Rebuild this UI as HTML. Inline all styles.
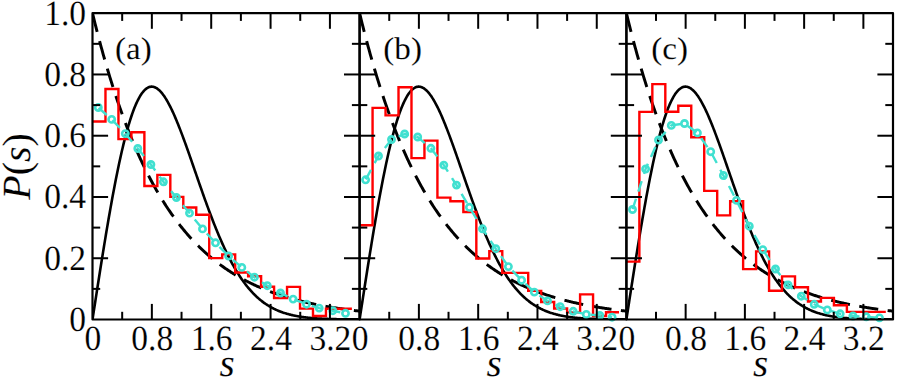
<!DOCTYPE html><html><head><meta charset="utf-8"><style>html,body{margin:0;padding:0;background:#fff;}svg{display:block;}text{font-family:"Liberation Serif",serif;fill:#000;text-rendering:geometricPrecision;stroke:#fff;stroke-width:0.15px;}</style></head><body>
<svg width="897" height="378" viewBox="0 0 897 378">
<rect width="897" height="378" fill="#fff"/>
<clipPath id="c0"><rect x="92.5" y="13.2" width="267.1" height="306.3"/></clipPath>
<clipPath id="c1"><rect x="359.6" y="13.2" width="266.8" height="306.3"/></clipPath>
<clipPath id="c2"><rect x="626.4" y="13.2" width="266.6" height="306.3"/></clipPath>
<path d="M92.5,13.2 L93.17,15.94 L93.84,18.66 L94.5,21.36 L95.17,24.03 L95.84,26.68 L96.51,29.3 L97.17,31.9 L97.84,34.48 L98.51,37.03 L99.18,39.56 L99.85,42.07 L100.51,44.56 L101.18,47.02 L101.85,49.46 L102.52,51.88 L103.18,54.28 L103.85,56.65 L104.52,59.01 L105.19,61.34 L105.86,63.66 L106.52,65.95 L107.19,68.22 L107.86,70.47 L108.53,72.7 L109.19,74.91 L109.86,77.11 L110.53,79.28 L111.2,81.43 L111.86,83.56 L112.53,85.68 L113.2,87.77 L113.87,89.85 L114.54,91.91 L115.2,93.94 L115.87,95.97 L116.54,97.97 L117.21,99.95 L117.87,101.92 L118.54,103.87 L119.21,105.8 L119.88,107.72 L120.55,109.61 L121.21,111.49 L121.88,113.36 L122.55,115.21 L123.22,117.04 L123.88,118.85 L124.55,120.65 L125.22,122.43 L125.89,124.19 L126.56,125.94 L127.22,127.68 L127.89,129.4 L128.56,131.1 L129.23,132.79 L129.89,134.46 L130.56,136.12 L131.23,137.76 L131.9,139.39 L132.56,141 L133.23,142.6 L133.9,144.19 L134.57,145.76 L135.24,147.32 L135.9,148.86 L136.57,150.39 L137.24,151.9 L137.91,153.4 L138.57,154.89 L139.24,156.37 L139.91,157.83 L140.58,159.28 L141.25,160.71 L141.91,162.14 L142.58,163.55 L143.25,164.94 L143.92,166.33 L144.58,167.7 L145.25,169.06 L145.92,170.41 L146.59,171.74 L147.26,173.07 L147.92,174.38 L148.59,175.68 L149.26,176.97 L149.93,178.25 L150.59,179.51 L151.26,180.77 L151.93,182.01 L152.6,183.24 L153.27,184.46 L153.93,185.67 L154.6,186.87 L155.27,188.06 L155.94,189.24 L156.6,190.4 L157.27,191.56 L157.94,192.71 L158.61,193.84 L159.28,194.97 L159.94,196.08 L160.61,197.19 L161.28,198.29 L161.95,199.37 L162.61,200.45 L163.28,201.51 L163.95,202.57 L164.62,203.62 L165.28,204.66 L165.95,205.69 L166.62,206.71 L167.29,207.72 L167.96,208.72 L168.62,209.71 L169.29,210.69 L169.96,211.67 L170.63,212.64 L171.29,213.59 L171.96,214.54 L172.63,215.48 L173.3,216.41 L173.97,217.34 L174.63,218.25 L175.3,219.16 L175.97,220.06 L176.64,220.95 L177.3,221.83 L177.97,222.71 L178.64,223.58 L179.31,224.43 L179.98,225.29 L180.64,226.13 L181.31,226.97 L181.98,227.8 L182.65,228.62 L183.31,229.43 L183.98,230.24 L184.65,231.04 L185.32,231.83 L185.99,232.62 L186.65,233.4 L187.32,234.17 L187.99,234.93 L188.66,235.69 L189.32,236.44 L189.99,237.18 L190.66,237.92 L191.33,238.65 L191.99,239.38 L192.66,240.09 L193.33,240.81 L194,241.51 L194.67,242.21 L195.33,242.9 L196,243.59 L196.67,244.27 L197.34,244.94 L198,245.61 L198.67,246.27 L199.34,246.93 L200.01,247.58 L200.68,248.22 L201.34,248.86 L202.01,249.5 L202.68,250.12 L203.35,250.74 L204.01,251.36 L204.68,251.97 L205.35,252.58 L206.02,253.18 L206.69,253.77 L207.35,254.36 L208.02,254.94 L208.69,255.52 L209.36,256.09 L210.02,256.66 L210.69,257.22 L211.36,257.78 L212.03,258.34 L212.69,258.88 L213.36,259.43 L214.03,259.96 L214.7,260.5 L215.37,261.03 L216.03,261.55 L216.7,262.07 L217.37,262.58 L218.04,263.09 L218.7,263.6 L219.37,264.1 L220.04,264.6 L220.71,265.09 L221.38,265.58 L222.04,266.06 L222.71,266.54 L223.38,267.01 L224.05,267.48 L224.71,267.95 L225.38,268.41 L226.05,268.87 L226.72,269.32 L227.39,269.77 L228.05,270.22 L228.72,270.66 L229.39,271.1 L230.06,271.53 L230.72,271.96 L231.39,272.39 L232.06,272.81 L232.73,273.23 L233.4,273.64 L234.06,274.05 L234.73,274.46 L235.4,274.86 L236.07,275.26 L236.73,275.66 L237.4,276.05 L238.07,276.44 L238.74,276.83 L239.41,277.21 L240.07,277.59 L240.74,277.96 L241.41,278.34 L242.08,278.7 L242.74,279.07 L243.41,279.43 L244.08,279.79 L244.75,280.15 L245.41,280.5 L246.08,280.85 L246.75,281.2 L247.42,281.54 L248.09,281.88 L248.75,282.22 L249.42,282.55 L250.09,282.88 L250.76,283.21 L251.42,283.53 L252.09,283.86 L252.76,284.18 L253.43,284.49 L254.1,284.81 L254.76,285.12 L255.43,285.42 L256.1,285.73 L256.77,286.03 L257.43,286.33 L258.1,286.63 L258.77,286.92 L259.44,287.22 L260.11,287.51 L260.77,287.79 L261.44,288.08 L262.11,288.36 L262.78,288.64 L263.44,288.91 L264.11,289.19 L264.78,289.46 L265.45,289.73 L266.12,289.99 L266.78,290.26 L267.45,290.52 L268.12,290.78 L268.79,291.04 L269.45,291.29 L270.12,291.55 L270.79,291.8 L271.46,292.04 L272.12,292.29 L272.79,292.53 L273.46,292.78 L274.13,293.02 L274.8,293.25 L275.46,293.49 L276.13,293.72 L276.8,293.95 L277.47,294.18 L278.13,294.41 L278.8,294.63 L279.47,294.86 L280.14,295.08 L280.81,295.29 L281.47,295.51 L282.14,295.73 L282.81,295.94 L283.48,296.15 L284.14,296.36 L284.81,296.57 L285.48,296.77 L286.15,296.98 L286.82,297.18 L287.48,297.38 L288.15,297.58 L288.82,297.77 L289.49,297.97 L290.15,298.16 L290.82,298.35 L291.49,298.54 L292.16,298.73 L292.83,298.91 L293.49,299.1 L294.16,299.28 L294.83,299.46 L295.5,299.64 L296.16,299.82 L296.83,300 L297.5,300.17 L298.17,300.34 L298.83,300.52 L299.5,300.69 L300.17,300.86 L300.84,301.02 L301.51,301.19 L302.17,301.35 L302.84,301.51 L303.51,301.68 L304.18,301.84 L304.84,301.99 L305.51,302.15 L306.18,302.31 L306.85,302.46 L307.52,302.61 L308.18,302.76 L308.85,302.91 L309.52,303.06 L310.19,303.21 L310.85,303.36 L311.52,303.5 L312.19,303.64 L312.86,303.79 L313.53,303.93 L314.19,304.07 L314.86,304.2 L315.53,304.34 L316.2,304.48 L316.86,304.61 L317.53,304.75 L318.2,304.88 L318.87,305.01 L319.54,305.14 L320.2,305.27 L320.87,305.39 L321.54,305.52 L322.21,305.65 L322.87,305.77 L323.54,305.89 L324.21,306.02 L324.88,306.14 L325.54,306.26 L326.21,306.37 L326.88,306.49 L327.55,306.61 L328.22,306.72 L328.88,306.84 L329.55,306.95 L330.22,307.06 L330.89,307.18 L331.55,307.29 L332.22,307.4 L332.89,307.5 L333.56,307.61 L334.23,307.72 L334.89,307.82 L335.56,307.93 L336.23,308.03 L336.9,308.13 L337.56,308.24 L338.23,308.34 L338.9,308.44 L339.57,308.54 L340.24,308.63 L340.9,308.73 L341.57,308.83 L342.24,308.92 L342.91,309.02 L343.57,309.11 L344.24,309.21 L344.91,309.3 L345.58,309.39 L346.25,309.48 L346.91,309.57 L347.58,309.66 L348.25,309.75 L348.92,309.83 L349.58,309.92 L350.25,310.01 L350.92,310.09 L351.59,310.18 L352.25,310.26 L352.92,310.34 L353.59,310.42 L354.26,310.51 L354.93,310.59 L355.59,310.67 L356.26,310.75 L356.93,310.82 L357.6,310.9 L358.26,310.98 L358.93,311.06 L359.6,311.13" fill="none" stroke="#000" stroke-width="2.95" stroke-dasharray="19.2 9.5" clip-path="url(#c0)"/>
<path d="M92.5,319.5 L93.17,315.17 L93.84,310.84 L94.5,306.52 L95.17,302.2 L95.84,297.88 L96.51,293.58 L97.17,289.28 L97.84,285 L98.51,280.73 L99.18,276.47 L99.85,272.23 L100.51,268.01 L101.18,263.81 L101.85,259.63 L102.52,255.47 L103.18,251.34 L103.85,247.23 L104.52,243.15 L105.19,239.09 L105.86,235.07 L106.52,231.08 L107.19,227.12 L107.86,223.2 L108.53,219.31 L109.19,215.46 L109.86,211.65 L110.53,207.88 L111.2,204.15 L111.86,200.47 L112.53,196.82 L113.2,193.22 L113.87,189.67 L114.54,186.17 L115.2,182.71 L115.87,179.31 L116.54,175.95 L117.21,172.65 L117.87,169.39 L118.54,166.2 L119.21,163.05 L119.88,159.97 L120.55,156.94 L121.21,153.96 L121.88,151.05 L122.55,148.19 L123.22,145.4 L123.88,142.66 L124.55,139.99 L125.22,137.38 L125.89,134.83 L126.56,132.34 L127.22,129.91 L127.89,127.56 L128.56,125.26 L129.23,123.03 L129.89,120.87 L130.56,118.77 L131.23,116.73 L131.9,114.77 L132.56,112.87 L133.23,111.04 L133.9,109.27 L134.57,107.57 L135.24,105.94 L135.9,104.37 L136.57,102.88 L137.24,101.45 L137.91,100.09 L138.57,98.79 L139.24,97.56 L139.91,96.4 L140.58,95.31 L141.25,94.28 L141.91,93.32 L142.58,92.43 L143.25,91.6 L143.92,90.84 L144.58,90.14 L145.25,89.51 L145.92,88.94 L146.59,88.44 L147.26,88 L147.92,87.63 L148.59,87.31 L149.26,87.06 L149.93,86.87 L150.59,86.74 L151.26,86.67 L151.93,86.66 L152.6,86.71 L153.27,86.82 L153.93,86.99 L154.6,87.21 L155.27,87.49 L155.94,87.82 L156.6,88.21 L157.27,88.65 L157.94,89.15 L158.61,89.7 L159.28,90.3 L159.94,90.94 L160.61,91.64 L161.28,92.39 L161.95,93.19 L162.61,94.03 L163.28,94.92 L163.95,95.85 L164.62,96.82 L165.28,97.84 L165.95,98.9 L166.62,100.01 L167.29,101.15 L167.96,102.33 L168.62,103.55 L169.29,104.81 L169.96,106.1 L170.63,107.43 L171.29,108.79 L171.96,110.18 L172.63,111.61 L173.3,113.06 L173.97,114.55 L174.63,116.07 L175.3,117.61 L175.97,119.18 L176.64,120.78 L177.3,122.4 L177.97,124.04 L178.64,125.71 L179.31,127.4 L179.98,129.11 L180.64,130.84 L181.31,132.59 L181.98,134.35 L182.65,136.14 L183.31,137.94 L183.98,139.75 L184.65,141.58 L185.32,143.42 L185.99,145.27 L186.65,147.14 L187.32,149.01 L187.99,150.9 L188.66,152.79 L189.32,154.69 L189.99,156.6 L190.66,158.51 L191.33,160.43 L191.99,162.35 L192.66,164.28 L193.33,166.21 L194,168.14 L194.67,170.07 L195.33,172 L196,173.93 L196.67,175.86 L197.34,177.79 L198,179.72 L198.67,181.64 L199.34,183.56 L200.01,185.48 L200.68,187.39 L201.34,189.29 L202.01,191.19 L202.68,193.08 L203.35,194.97 L204.01,196.84 L204.68,198.71 L205.35,200.57 L206.02,202.42 L206.69,204.26 L207.35,206.08 L208.02,207.9 L208.69,209.71 L209.36,211.5 L210.02,213.28 L210.69,215.05 L211.36,216.81 L212.03,218.55 L212.69,220.28 L213.36,221.99 L214.03,223.69 L214.7,225.37 L215.37,227.04 L216.03,228.7 L216.7,230.34 L217.37,231.96 L218.04,233.57 L218.7,235.16 L219.37,236.73 L220.04,238.29 L220.71,239.83 L221.38,241.35 L222.04,242.86 L222.71,244.34 L223.38,245.81 L224.05,247.27 L224.71,248.7 L225.38,250.12 L226.05,251.52 L226.72,252.9 L227.39,254.26 L228.05,255.61 L228.72,256.93 L229.39,258.24 L230.06,259.53 L230.72,260.8 L231.39,262.06 L232.06,263.29 L232.73,264.51 L233.4,265.71 L234.06,266.89 L234.73,268.05 L235.4,269.19 L236.07,270.32 L236.73,271.42 L237.4,272.51 L238.07,273.59 L238.74,274.64 L239.41,275.68 L240.07,276.7 L240.74,277.7 L241.41,278.68 L242.08,279.65 L242.74,280.6 L243.41,281.53 L244.08,282.44 L244.75,283.34 L245.41,284.22 L246.08,285.09 L246.75,285.94 L247.42,286.77 L248.09,287.59 L248.75,288.39 L249.42,289.18 L250.09,289.95 L250.76,290.7 L251.42,291.44 L252.09,292.16 L252.76,292.87 L253.43,293.57 L254.1,294.25 L254.76,294.91 L255.43,295.57 L256.1,296.2 L256.77,296.83 L257.43,297.44 L258.1,298.04 L258.77,298.62 L259.44,299.19 L260.11,299.75 L260.77,300.3 L261.44,300.83 L262.11,301.35 L262.78,301.86 L263.44,302.36 L264.11,302.84 L264.78,303.32 L265.45,303.78 L266.12,304.23 L266.78,304.67 L267.45,305.1 L268.12,305.52 L268.79,305.93 L269.45,306.33 L270.12,306.72 L270.79,307.1 L271.46,307.47 L272.12,307.83 L272.79,308.18 L273.46,308.52 L274.13,308.86 L274.8,309.18 L275.46,309.5 L276.13,309.81 L276.8,310.11 L277.47,310.4 L278.13,310.68 L278.8,310.96 L279.47,311.23 L280.14,311.49 L280.81,311.74 L281.47,311.99 L282.14,312.23 L282.81,312.47 L283.48,312.69 L284.14,312.91 L284.81,313.13 L285.48,313.34 L286.15,313.54 L286.82,313.74 L287.48,313.93 L288.15,314.11 L288.82,314.29 L289.49,314.47 L290.15,314.63 L290.82,314.8 L291.49,314.96 L292.16,315.11 L292.83,315.26 L293.49,315.41 L294.16,315.55 L294.83,315.69 L295.5,315.82 L296.16,315.95 L296.83,316.07 L297.5,316.19 L298.17,316.31 L298.83,316.42 L299.5,316.53 L300.17,316.64 L300.84,316.74 L301.51,316.84 L302.17,316.93 L302.84,317.03 L303.51,317.12 L304.18,317.2 L304.84,317.29 L305.51,317.37 L306.18,317.45 L306.85,317.52 L307.52,317.6 L308.18,317.67 L308.85,317.74 L309.52,317.8 L310.19,317.87 L310.85,317.93 L311.52,317.99 L312.19,318.04 L312.86,318.1 L313.53,318.15 L314.19,318.2 L314.86,318.25 L315.53,318.3 L316.2,318.35 L316.86,318.39 L317.53,318.44 L318.2,318.48 L318.87,318.52 L319.54,318.56 L320.2,318.6 L320.87,318.63 L321.54,318.67 L322.21,318.7 L322.87,318.73 L323.54,318.76 L324.21,318.79 L324.88,318.82 L325.54,318.85 L326.21,318.87 L326.88,318.9 L327.55,318.92 L328.22,318.95 L328.88,318.97 L329.55,318.99 L330.22,319.01 L330.89,319.03 L331.55,319.05 L332.22,319.07 L332.89,319.09 L333.56,319.11 L334.23,319.12 L334.89,319.14 L335.56,319.16 L336.23,319.17 L336.9,319.18 L337.56,319.2 L338.23,319.21 L338.9,319.22 L339.57,319.24 L340.24,319.25 L340.9,319.26 L341.57,319.27 L342.24,319.28 L342.91,319.29 L343.57,319.3 L344.24,319.31 L344.91,319.32 L345.58,319.32 L346.25,319.33 L346.91,319.34 L347.58,319.35 L348.25,319.35 L348.92,319.36 L349.58,319.37 L350.25,319.37 L350.92,319.38 L351.59,319.38 L352.25,319.39 L352.92,319.39 L353.59,319.4 L354.26,319.4 L354.93,319.41 L355.59,319.41 L356.26,319.42 L356.93,319.42 L357.6,319.42 L358.26,319.43 L358.93,319.43 L359.6,319.43" fill="none" stroke="#000" stroke-width="2.6" clip-path="url(#c0)"/>
<path d="M92.5,121.5 L105.47,121.5 L105.47,89 L118.44,89 L118.44,139.1 L131.41,139.1 L131.41,132.2 L144.38,132.2 L144.38,186 L157.35,186 L157.35,174.9 L170.32,174.9 L170.32,196.9 L183.29,196.9 L183.29,207.5 L196.26,207.5 L196.26,214.7 L209.23,214.7 L209.23,258.1 L222.2,258.1 L222.2,254.4 L235.17,254.4 L235.17,272.5 L248.14,272.5 L248.14,276.2 L261.11,276.2 L261.11,286.8 L274.08,286.8 L274.08,298 L287.05,298 L287.05,286.9 L300.02,286.9 L300.02,308.6 L312.99,308.6 L312.99,316 L325.96,316 L325.96,308.8 L338.93,308.8 L338.93,308.8 L351.9,308.8" fill="none" stroke="#f00" stroke-width="2.4" stroke-linejoin="miter" stroke-linecap="butt"/>
<path d="M98.3,107.5 L111.7,119.4 L125.3,133.6 L137.8,148.5 L150.9,164.5 L163.4,181.8 L176.4,197.5 L189.5,213.1 L202.5,228.9 L215.5,242.8 L228.6,256 L241.8,267.4 L254.4,277.2 L267.3,285.7 L280.5,293 L293.1,299.1 L306.5,304.2 L319.2,308.1 L332.8,310.7 L345.5,313.3" fill="none" stroke="#40e0d0" stroke-width="2.4" stroke-dasharray="10.85 7.6" stroke-dashoffset="-0.45"/>
<circle cx="98.3" cy="107.5" r="3.15" fill="none" stroke="#40e0d0" stroke-width="2.6"/>
<circle cx="111.7" cy="119.4" r="3.15" fill="none" stroke="#40e0d0" stroke-width="2.6"/>
<circle cx="125.3" cy="133.6" r="3.15" fill="none" stroke="#40e0d0" stroke-width="2.6"/>
<circle cx="137.8" cy="148.5" r="3.15" fill="none" stroke="#40e0d0" stroke-width="2.6"/>
<circle cx="150.9" cy="164.5" r="3.15" fill="none" stroke="#40e0d0" stroke-width="2.6"/>
<circle cx="163.4" cy="181.8" r="3.15" fill="none" stroke="#40e0d0" stroke-width="2.6"/>
<circle cx="176.4" cy="197.5" r="3.15" fill="none" stroke="#40e0d0" stroke-width="2.6"/>
<circle cx="189.5" cy="213.1" r="3.15" fill="none" stroke="#40e0d0" stroke-width="2.6"/>
<circle cx="202.5" cy="228.9" r="3.15" fill="none" stroke="#40e0d0" stroke-width="2.6"/>
<circle cx="215.5" cy="242.8" r="3.15" fill="none" stroke="#40e0d0" stroke-width="2.6"/>
<circle cx="228.6" cy="256" r="3.15" fill="none" stroke="#40e0d0" stroke-width="2.6"/>
<circle cx="241.8" cy="267.4" r="3.15" fill="none" stroke="#40e0d0" stroke-width="2.6"/>
<circle cx="254.4" cy="277.2" r="3.15" fill="none" stroke="#40e0d0" stroke-width="2.6"/>
<circle cx="267.3" cy="285.7" r="3.15" fill="none" stroke="#40e0d0" stroke-width="2.6"/>
<circle cx="280.5" cy="293" r="3.15" fill="none" stroke="#40e0d0" stroke-width="2.6"/>
<circle cx="293.1" cy="299.1" r="3.15" fill="none" stroke="#40e0d0" stroke-width="2.6"/>
<circle cx="306.5" cy="304.2" r="3.15" fill="none" stroke="#40e0d0" stroke-width="2.6"/>
<circle cx="319.2" cy="308.1" r="3.15" fill="none" stroke="#40e0d0" stroke-width="2.6"/>
<circle cx="332.8" cy="310.7" r="3.15" fill="none" stroke="#40e0d0" stroke-width="2.6"/>
<circle cx="345.5" cy="313.3" r="3.15" fill="none" stroke="#40e0d0" stroke-width="2.6"/>
<path d="M359.6,13.2 L360.27,15.94 L360.93,18.66 L361.6,21.36 L362.27,24.03 L362.94,26.68 L363.6,29.3 L364.27,31.9 L364.94,34.48 L365.6,37.03 L366.27,39.56 L366.94,42.07 L367.6,44.56 L368.27,47.02 L368.94,49.46 L369.61,51.88 L370.27,54.28 L370.94,56.65 L371.61,59.01 L372.27,61.34 L372.94,63.66 L373.61,65.95 L374.27,68.22 L374.94,70.47 L375.61,72.7 L376.28,74.91 L376.94,77.11 L377.61,79.28 L378.28,81.43 L378.94,83.56 L379.61,85.68 L380.28,87.77 L380.94,89.85 L381.61,91.91 L382.28,93.94 L382.95,95.97 L383.61,97.97 L384.28,99.95 L384.95,101.92 L385.61,103.87 L386.28,105.8 L386.95,107.72 L387.61,109.61 L388.28,111.49 L388.95,113.36 L389.62,115.21 L390.28,117.04 L390.95,118.85 L391.62,120.65 L392.28,122.43 L392.95,124.19 L393.62,125.94 L394.28,127.68 L394.95,129.4 L395.62,131.1 L396.29,132.79 L396.95,134.46 L397.62,136.12 L398.29,137.76 L398.95,139.39 L399.62,141 L400.29,142.6 L400.95,144.19 L401.62,145.76 L402.29,147.32 L402.96,148.86 L403.62,150.39 L404.29,151.9 L404.96,153.4 L405.62,154.89 L406.29,156.37 L406.96,157.83 L407.62,159.28 L408.29,160.71 L408.96,162.14 L409.62,163.55 L410.29,164.94 L410.96,166.33 L411.63,167.7 L412.29,169.06 L412.96,170.41 L413.63,171.74 L414.29,173.07 L414.96,174.38 L415.63,175.68 L416.3,176.97 L416.96,178.25 L417.63,179.51 L418.3,180.77 L418.96,182.01 L419.63,183.24 L420.3,184.46 L420.96,185.67 L421.63,186.87 L422.3,188.06 L422.97,189.24 L423.63,190.4 L424.3,191.56 L424.97,192.71 L425.63,193.84 L426.3,194.97 L426.97,196.08 L427.63,197.19 L428.3,198.29 L428.97,199.37 L429.63,200.45 L430.3,201.51 L430.97,202.57 L431.64,203.62 L432.3,204.66 L432.97,205.69 L433.64,206.71 L434.3,207.72 L434.97,208.72 L435.64,209.71 L436.31,210.69 L436.97,211.67 L437.64,212.64 L438.31,213.59 L438.97,214.54 L439.64,215.48 L440.31,216.41 L440.97,217.34 L441.64,218.25 L442.31,219.16 L442.98,220.06 L443.64,220.95 L444.31,221.83 L444.98,222.71 L445.64,223.58 L446.31,224.43 L446.98,225.29 L447.64,226.13 L448.31,226.97 L448.98,227.8 L449.65,228.62 L450.31,229.43 L450.98,230.24 L451.65,231.04 L452.31,231.83 L452.98,232.62 L453.65,233.4 L454.31,234.17 L454.98,234.93 L455.65,235.69 L456.31,236.44 L456.98,237.18 L457.65,237.92 L458.32,238.65 L458.98,239.38 L459.65,240.09 L460.32,240.81 L460.98,241.51 L461.65,242.21 L462.32,242.9 L462.99,243.59 L463.65,244.27 L464.32,244.94 L464.99,245.61 L465.65,246.27 L466.32,246.93 L466.99,247.58 L467.65,248.22 L468.32,248.86 L468.99,249.5 L469.66,250.12 L470.32,250.74 L470.99,251.36 L471.66,251.97 L472.32,252.58 L472.99,253.18 L473.66,253.77 L474.32,254.36 L474.99,254.94 L475.66,255.52 L476.33,256.09 L476.99,256.66 L477.66,257.22 L478.33,257.78 L478.99,258.34 L479.66,258.88 L480.33,259.43 L480.99,259.96 L481.66,260.5 L482.33,261.03 L483,261.55 L483.66,262.07 L484.33,262.58 L485,263.09 L485.66,263.6 L486.33,264.1 L487,264.6 L487.66,265.09 L488.33,265.58 L489,266.06 L489.67,266.54 L490.33,267.01 L491,267.48 L491.67,267.95 L492.33,268.41 L493,268.87 L493.67,269.32 L494.33,269.77 L495,270.22 L495.67,270.66 L496.34,271.1 L497,271.53 L497.67,271.96 L498.34,272.39 L499,272.81 L499.67,273.23 L500.34,273.64 L501,274.05 L501.67,274.46 L502.34,274.86 L503,275.26 L503.67,275.66 L504.34,276.05 L505.01,276.44 L505.67,276.83 L506.34,277.21 L507.01,277.59 L507.67,277.96 L508.34,278.34 L509.01,278.7 L509.68,279.07 L510.34,279.43 L511.01,279.79 L511.68,280.15 L512.34,280.5 L513.01,280.85 L513.68,281.2 L514.34,281.54 L515.01,281.88 L515.68,282.22 L516.35,282.55 L517.01,282.88 L517.68,283.21 L518.35,283.53 L519.01,283.86 L519.68,284.18 L520.35,284.49 L521.01,284.81 L521.68,285.12 L522.35,285.42 L523.02,285.73 L523.68,286.03 L524.35,286.33 L525.02,286.63 L525.68,286.92 L526.35,287.22 L527.02,287.51 L527.68,287.79 L528.35,288.08 L529.02,288.36 L529.69,288.64 L530.35,288.91 L531.02,289.19 L531.69,289.46 L532.35,289.73 L533.02,289.99 L533.69,290.26 L534.35,290.52 L535.02,290.78 L535.69,291.04 L536.36,291.29 L537.02,291.55 L537.69,291.8 L538.36,292.04 L539.02,292.29 L539.69,292.53 L540.36,292.78 L541.02,293.02 L541.69,293.25 L542.36,293.49 L543.03,293.72 L543.69,293.95 L544.36,294.18 L545.03,294.41 L545.69,294.63 L546.36,294.86 L547.03,295.08 L547.69,295.29 L548.36,295.51 L549.03,295.73 L549.7,295.94 L550.36,296.15 L551.03,296.36 L551.7,296.57 L552.36,296.77 L553.03,296.98 L553.7,297.18 L554.36,297.38 L555.03,297.58 L555.7,297.77 L556.37,297.97 L557.03,298.16 L557.7,298.35 L558.37,298.54 L559.03,298.73 L559.7,298.91 L560.37,299.1 L561.03,299.28 L561.7,299.46 L562.37,299.64 L563.04,299.82 L563.7,300 L564.37,300.17 L565.04,300.34 L565.7,300.52 L566.37,300.69 L567.04,300.86 L567.7,301.02 L568.37,301.19 L569.04,301.35 L569.71,301.51 L570.37,301.68 L571.04,301.84 L571.71,301.99 L572.37,302.15 L573.04,302.31 L573.71,302.46 L574.37,302.61 L575.04,302.76 L575.71,302.91 L576.38,303.06 L577.04,303.21 L577.71,303.36 L578.38,303.5 L579.04,303.64 L579.71,303.79 L580.38,303.93 L581.04,304.07 L581.71,304.2 L582.38,304.34 L583.05,304.48 L583.71,304.61 L584.38,304.75 L585.05,304.88 L585.71,305.01 L586.38,305.14 L587.05,305.27 L587.71,305.39 L588.38,305.52 L589.05,305.65 L589.72,305.77 L590.38,305.89 L591.05,306.02 L591.72,306.14 L592.38,306.26 L593.05,306.37 L593.72,306.49 L594.38,306.61 L595.05,306.72 L595.72,306.84 L596.38,306.95 L597.05,307.06 L597.72,307.18 L598.39,307.29 L599.05,307.4 L599.72,307.5 L600.39,307.61 L601.05,307.72 L601.72,307.82 L602.39,307.93 L603.06,308.03 L603.72,308.13 L604.39,308.24 L605.06,308.34 L605.72,308.44 L606.39,308.54 L607.06,308.63 L607.72,308.73 L608.39,308.83 L609.06,308.92 L609.73,309.02 L610.39,309.11 L611.06,309.21 L611.73,309.3 L612.39,309.39 L613.06,309.48 L613.73,309.57 L614.39,309.66 L615.06,309.75 L615.73,309.83 L616.39,309.92 L617.06,310.01 L617.73,310.09 L618.4,310.18 L619.06,310.26 L619.73,310.34 L620.4,310.42 L621.06,310.51 L621.73,310.59 L622.4,310.67 L623.07,310.75 L623.73,310.82 L624.4,310.9 L625.07,310.98 L625.73,311.06 L626.4,311.13" fill="none" stroke="#000" stroke-width="2.95" stroke-dasharray="19.2 9.5" clip-path="url(#c1)"/>
<path d="M359.6,319.5 L360.27,315.17 L360.93,310.84 L361.6,306.52 L362.27,302.2 L362.94,297.88 L363.6,293.58 L364.27,289.28 L364.94,285 L365.6,280.73 L366.27,276.47 L366.94,272.23 L367.6,268.01 L368.27,263.81 L368.94,259.63 L369.61,255.47 L370.27,251.34 L370.94,247.23 L371.61,243.15 L372.27,239.09 L372.94,235.07 L373.61,231.08 L374.27,227.12 L374.94,223.2 L375.61,219.31 L376.28,215.46 L376.94,211.65 L377.61,207.88 L378.28,204.15 L378.94,200.47 L379.61,196.82 L380.28,193.22 L380.94,189.67 L381.61,186.17 L382.28,182.71 L382.95,179.31 L383.61,175.95 L384.28,172.65 L384.95,169.39 L385.61,166.2 L386.28,163.05 L386.95,159.97 L387.61,156.94 L388.28,153.96 L388.95,151.05 L389.62,148.19 L390.28,145.4 L390.95,142.66 L391.62,139.99 L392.28,137.38 L392.95,134.83 L393.62,132.34 L394.28,129.91 L394.95,127.56 L395.62,125.26 L396.29,123.03 L396.95,120.87 L397.62,118.77 L398.29,116.73 L398.95,114.77 L399.62,112.87 L400.29,111.04 L400.95,109.27 L401.62,107.57 L402.29,105.94 L402.96,104.37 L403.62,102.88 L404.29,101.45 L404.96,100.09 L405.62,98.79 L406.29,97.56 L406.96,96.4 L407.62,95.31 L408.29,94.28 L408.96,93.32 L409.62,92.43 L410.29,91.6 L410.96,90.84 L411.63,90.14 L412.29,89.51 L412.96,88.94 L413.63,88.44 L414.29,88 L414.96,87.63 L415.63,87.31 L416.3,87.06 L416.96,86.87 L417.63,86.74 L418.3,86.67 L418.96,86.66 L419.63,86.71 L420.3,86.82 L420.96,86.99 L421.63,87.21 L422.3,87.49 L422.97,87.82 L423.63,88.21 L424.3,88.65 L424.97,89.15 L425.63,89.7 L426.3,90.3 L426.97,90.94 L427.63,91.64 L428.3,92.39 L428.97,93.19 L429.63,94.03 L430.3,94.92 L430.97,95.85 L431.64,96.82 L432.3,97.84 L432.97,98.9 L433.64,100.01 L434.3,101.15 L434.97,102.33 L435.64,103.55 L436.31,104.81 L436.97,106.1 L437.64,107.43 L438.31,108.79 L438.97,110.18 L439.64,111.61 L440.31,113.06 L440.97,114.55 L441.64,116.07 L442.31,117.61 L442.98,119.18 L443.64,120.78 L444.31,122.4 L444.98,124.04 L445.64,125.71 L446.31,127.4 L446.98,129.11 L447.64,130.84 L448.31,132.59 L448.98,134.35 L449.65,136.14 L450.31,137.94 L450.98,139.75 L451.65,141.58 L452.31,143.42 L452.98,145.27 L453.65,147.14 L454.31,149.01 L454.98,150.9 L455.65,152.79 L456.31,154.69 L456.98,156.6 L457.65,158.51 L458.32,160.43 L458.98,162.35 L459.65,164.28 L460.32,166.21 L460.98,168.14 L461.65,170.07 L462.32,172 L462.99,173.93 L463.65,175.86 L464.32,177.79 L464.99,179.72 L465.65,181.64 L466.32,183.56 L466.99,185.48 L467.65,187.39 L468.32,189.29 L468.99,191.19 L469.66,193.08 L470.32,194.97 L470.99,196.84 L471.66,198.71 L472.32,200.57 L472.99,202.42 L473.66,204.26 L474.32,206.08 L474.99,207.9 L475.66,209.71 L476.33,211.5 L476.99,213.28 L477.66,215.05 L478.33,216.81 L478.99,218.55 L479.66,220.28 L480.33,221.99 L480.99,223.69 L481.66,225.37 L482.33,227.04 L483,228.7 L483.66,230.34 L484.33,231.96 L485,233.57 L485.66,235.16 L486.33,236.73 L487,238.29 L487.66,239.83 L488.33,241.35 L489,242.86 L489.67,244.34 L490.33,245.81 L491,247.27 L491.67,248.7 L492.33,250.12 L493,251.52 L493.67,252.9 L494.33,254.26 L495,255.61 L495.67,256.93 L496.34,258.24 L497,259.53 L497.67,260.8 L498.34,262.06 L499,263.29 L499.67,264.51 L500.34,265.71 L501,266.89 L501.67,268.05 L502.34,269.19 L503,270.32 L503.67,271.42 L504.34,272.51 L505.01,273.59 L505.67,274.64 L506.34,275.68 L507.01,276.7 L507.67,277.7 L508.34,278.68 L509.01,279.65 L509.68,280.6 L510.34,281.53 L511.01,282.44 L511.68,283.34 L512.34,284.22 L513.01,285.09 L513.68,285.94 L514.34,286.77 L515.01,287.59 L515.68,288.39 L516.35,289.18 L517.01,289.95 L517.68,290.7 L518.35,291.44 L519.01,292.16 L519.68,292.87 L520.35,293.57 L521.01,294.25 L521.68,294.91 L522.35,295.57 L523.02,296.2 L523.68,296.83 L524.35,297.44 L525.02,298.04 L525.68,298.62 L526.35,299.19 L527.02,299.75 L527.68,300.3 L528.35,300.83 L529.02,301.35 L529.69,301.86 L530.35,302.36 L531.02,302.84 L531.69,303.32 L532.35,303.78 L533.02,304.23 L533.69,304.67 L534.35,305.1 L535.02,305.52 L535.69,305.93 L536.36,306.33 L537.02,306.72 L537.69,307.1 L538.36,307.47 L539.02,307.83 L539.69,308.18 L540.36,308.52 L541.02,308.86 L541.69,309.18 L542.36,309.5 L543.03,309.81 L543.69,310.11 L544.36,310.4 L545.03,310.68 L545.69,310.96 L546.36,311.23 L547.03,311.49 L547.69,311.74 L548.36,311.99 L549.03,312.23 L549.7,312.47 L550.36,312.69 L551.03,312.91 L551.7,313.13 L552.36,313.34 L553.03,313.54 L553.7,313.74 L554.36,313.93 L555.03,314.11 L555.7,314.29 L556.37,314.47 L557.03,314.63 L557.7,314.8 L558.37,314.96 L559.03,315.11 L559.7,315.26 L560.37,315.41 L561.03,315.55 L561.7,315.69 L562.37,315.82 L563.04,315.95 L563.7,316.07 L564.37,316.19 L565.04,316.31 L565.7,316.42 L566.37,316.53 L567.04,316.64 L567.7,316.74 L568.37,316.84 L569.04,316.93 L569.71,317.03 L570.37,317.12 L571.04,317.2 L571.71,317.29 L572.37,317.37 L573.04,317.45 L573.71,317.52 L574.37,317.6 L575.04,317.67 L575.71,317.74 L576.38,317.8 L577.04,317.87 L577.71,317.93 L578.38,317.99 L579.04,318.04 L579.71,318.1 L580.38,318.15 L581.04,318.2 L581.71,318.25 L582.38,318.3 L583.05,318.35 L583.71,318.39 L584.38,318.44 L585.05,318.48 L585.71,318.52 L586.38,318.56 L587.05,318.6 L587.71,318.63 L588.38,318.67 L589.05,318.7 L589.72,318.73 L590.38,318.76 L591.05,318.79 L591.72,318.82 L592.38,318.85 L593.05,318.87 L593.72,318.9 L594.38,318.92 L595.05,318.95 L595.72,318.97 L596.38,318.99 L597.05,319.01 L597.72,319.03 L598.39,319.05 L599.05,319.07 L599.72,319.09 L600.39,319.11 L601.05,319.12 L601.72,319.14 L602.39,319.16 L603.06,319.17 L603.72,319.18 L604.39,319.2 L605.06,319.21 L605.72,319.22 L606.39,319.24 L607.06,319.25 L607.72,319.26 L608.39,319.27 L609.06,319.28 L609.73,319.29 L610.39,319.3 L611.06,319.31 L611.73,319.32 L612.39,319.32 L613.06,319.33 L613.73,319.34 L614.39,319.35 L615.06,319.35 L615.73,319.36 L616.39,319.37 L617.06,319.37 L617.73,319.38 L618.4,319.38 L619.06,319.39 L619.73,319.39 L620.4,319.4 L621.06,319.4 L621.73,319.41 L622.4,319.41 L623.07,319.42 L623.73,319.42 L624.4,319.42 L625.07,319.43 L625.73,319.43 L626.4,319.43" fill="none" stroke="#000" stroke-width="2.6" clip-path="url(#c1)"/>
<path d="M359.6,225.2 L372.57,225.2 L372.57,107.9 L385.54,107.9 L385.54,115.4 L398.51,115.4 L398.51,87.2 L411.48,87.2 L411.48,158.1 L424.45,158.1 L424.45,140.6 L437.42,140.6 L437.42,197.6 L450.39,197.6 L450.39,201.3 L463.36,201.3 L463.36,212 L476.33,212 L476.33,258.5 L489.3,258.5 L489.3,251.1 L502.27,251.1 L502.27,272.9 L515.24,272.9 L515.24,272.9 L528.21,272.9 L528.21,290.9 L541.18,290.9 L541.18,302 L554.15,302 L554.15,308.5 L567.12,308.5 L567.12,312.4 L580.09,312.4 L580.09,294.4 L593.06,294.4 L593.06,316 L606.03,316 L606.03,312.2 L619,312.2" fill="none" stroke="#f00" stroke-width="2.4" stroke-linejoin="miter" stroke-linecap="butt"/>
<path d="M365.6,179.8 L378.5,156 L391.5,139.5 L404.6,134 L417.7,137 L430.9,148.3 L443.8,165.1 L456.5,185.1 L469.4,207.3 L482.5,228.8 L495.8,248.7 L508.4,266.6 L521.6,280.2 L534.3,292.1 L547.5,300.9 L560.2,306.7 L573.2,311.3 L586.3,314.4 L599.8,315.5 L612.1,317.2" fill="none" stroke="#40e0d0" stroke-width="2.4" stroke-dasharray="10.85 7.6" stroke-dashoffset="-0.45"/>
<circle cx="365.6" cy="179.8" r="3.15" fill="none" stroke="#40e0d0" stroke-width="2.6"/>
<circle cx="378.5" cy="156" r="3.15" fill="none" stroke="#40e0d0" stroke-width="2.6"/>
<circle cx="391.5" cy="139.5" r="3.15" fill="none" stroke="#40e0d0" stroke-width="2.6"/>
<circle cx="404.6" cy="134" r="3.15" fill="none" stroke="#40e0d0" stroke-width="2.6"/>
<circle cx="417.7" cy="137" r="3.15" fill="none" stroke="#40e0d0" stroke-width="2.6"/>
<circle cx="430.9" cy="148.3" r="3.15" fill="none" stroke="#40e0d0" stroke-width="2.6"/>
<circle cx="443.8" cy="165.1" r="3.15" fill="none" stroke="#40e0d0" stroke-width="2.6"/>
<circle cx="456.5" cy="185.1" r="3.15" fill="none" stroke="#40e0d0" stroke-width="2.6"/>
<circle cx="469.4" cy="207.3" r="3.15" fill="none" stroke="#40e0d0" stroke-width="2.6"/>
<circle cx="482.5" cy="228.8" r="3.15" fill="none" stroke="#40e0d0" stroke-width="2.6"/>
<circle cx="495.8" cy="248.7" r="3.15" fill="none" stroke="#40e0d0" stroke-width="2.6"/>
<circle cx="508.4" cy="266.6" r="3.15" fill="none" stroke="#40e0d0" stroke-width="2.6"/>
<circle cx="521.6" cy="280.2" r="3.15" fill="none" stroke="#40e0d0" stroke-width="2.6"/>
<circle cx="534.3" cy="292.1" r="3.15" fill="none" stroke="#40e0d0" stroke-width="2.6"/>
<circle cx="547.5" cy="300.9" r="3.15" fill="none" stroke="#40e0d0" stroke-width="2.6"/>
<circle cx="560.2" cy="306.7" r="3.15" fill="none" stroke="#40e0d0" stroke-width="2.6"/>
<circle cx="573.2" cy="311.3" r="3.15" fill="none" stroke="#40e0d0" stroke-width="2.6"/>
<circle cx="586.3" cy="314.4" r="3.15" fill="none" stroke="#40e0d0" stroke-width="2.6"/>
<circle cx="599.8" cy="315.5" r="3.15" fill="none" stroke="#40e0d0" stroke-width="2.6"/>
<circle cx="612.1" cy="317.2" r="3.15" fill="none" stroke="#40e0d0" stroke-width="2.6"/>
<path d="M626.4,13.2 L627.07,15.94 L627.73,18.66 L628.4,21.36 L629.07,24.03 L629.73,26.68 L630.4,29.3 L631.07,31.9 L631.73,34.48 L632.4,37.03 L633.06,39.56 L633.73,42.07 L634.4,44.56 L635.06,47.02 L635.73,49.46 L636.4,51.88 L637.06,54.28 L637.73,56.65 L638.4,59.01 L639.06,61.34 L639.73,63.66 L640.4,65.95 L641.06,68.22 L641.73,70.47 L642.4,72.7 L643.06,74.91 L643.73,77.11 L644.4,79.28 L645.06,81.43 L645.73,83.56 L646.39,85.68 L647.06,87.77 L647.73,89.85 L648.39,91.91 L649.06,93.94 L649.73,95.97 L650.39,97.97 L651.06,99.95 L651.73,101.92 L652.39,103.87 L653.06,105.8 L653.73,107.72 L654.39,109.61 L655.06,111.49 L655.73,113.36 L656.39,115.21 L657.06,117.04 L657.73,118.85 L658.39,120.65 L659.06,122.43 L659.73,124.19 L660.39,125.94 L661.06,127.68 L661.72,129.4 L662.39,131.1 L663.06,132.79 L663.72,134.46 L664.39,136.12 L665.06,137.76 L665.72,139.39 L666.39,141 L667.06,142.6 L667.72,144.19 L668.39,145.76 L669.06,147.32 L669.72,148.86 L670.39,150.39 L671.06,151.9 L671.72,153.4 L672.39,154.89 L673.05,156.37 L673.72,157.83 L674.39,159.28 L675.05,160.71 L675.72,162.14 L676.39,163.55 L677.05,164.94 L677.72,166.33 L678.39,167.7 L679.05,169.06 L679.72,170.41 L680.39,171.74 L681.05,173.07 L681.72,174.38 L682.39,175.68 L683.05,176.97 L683.72,178.25 L684.39,179.51 L685.05,180.77 L685.72,182.01 L686.38,183.24 L687.05,184.46 L687.72,185.67 L688.38,186.87 L689.05,188.06 L689.72,189.24 L690.38,190.4 L691.05,191.56 L691.72,192.71 L692.38,193.84 L693.05,194.97 L693.72,196.08 L694.38,197.19 L695.05,198.29 L695.72,199.37 L696.38,200.45 L697.05,201.51 L697.72,202.57 L698.38,203.62 L699.05,204.66 L699.72,205.69 L700.38,206.71 L701.05,207.72 L701.71,208.72 L702.38,209.71 L703.05,210.69 L703.71,211.67 L704.38,212.64 L705.05,213.59 L705.71,214.54 L706.38,215.48 L707.05,216.41 L707.71,217.34 L708.38,218.25 L709.05,219.16 L709.71,220.06 L710.38,220.95 L711.05,221.83 L711.71,222.71 L712.38,223.58 L713.04,224.43 L713.71,225.29 L714.38,226.13 L715.04,226.97 L715.71,227.8 L716.38,228.62 L717.04,229.43 L717.71,230.24 L718.38,231.04 L719.04,231.83 L719.71,232.62 L720.38,233.4 L721.04,234.17 L721.71,234.93 L722.38,235.69 L723.04,236.44 L723.71,237.18 L724.38,237.92 L725.04,238.65 L725.71,239.38 L726.38,240.09 L727.04,240.81 L727.71,241.51 L728.37,242.21 L729.04,242.9 L729.71,243.59 L730.37,244.27 L731.04,244.94 L731.71,245.61 L732.37,246.27 L733.04,246.93 L733.71,247.58 L734.37,248.22 L735.04,248.86 L735.71,249.5 L736.37,250.12 L737.04,250.74 L737.71,251.36 L738.37,251.97 L739.04,252.58 L739.7,253.18 L740.37,253.77 L741.04,254.36 L741.7,254.94 L742.37,255.52 L743.04,256.09 L743.7,256.66 L744.37,257.22 L745.04,257.78 L745.7,258.34 L746.37,258.88 L747.04,259.43 L747.7,259.96 L748.37,260.5 L749.04,261.03 L749.7,261.55 L750.37,262.07 L751.04,262.58 L751.7,263.09 L752.37,263.6 L753.03,264.1 L753.7,264.6 L754.37,265.09 L755.03,265.58 L755.7,266.06 L756.37,266.54 L757.03,267.01 L757.7,267.48 L758.37,267.95 L759.03,268.41 L759.7,268.87 L760.37,269.32 L761.03,269.77 L761.7,270.22 L762.37,270.66 L763.03,271.1 L763.7,271.53 L764.37,271.96 L765.03,272.39 L765.7,272.81 L766.37,273.23 L767.03,273.64 L767.7,274.05 L768.36,274.46 L769.03,274.86 L769.7,275.26 L770.36,275.66 L771.03,276.05 L771.7,276.44 L772.36,276.83 L773.03,277.21 L773.7,277.59 L774.36,277.96 L775.03,278.34 L775.7,278.7 L776.36,279.07 L777.03,279.43 L777.7,279.79 L778.36,280.15 L779.03,280.5 L779.69,280.85 L780.36,281.2 L781.03,281.54 L781.69,281.88 L782.36,282.22 L783.03,282.55 L783.69,282.88 L784.36,283.21 L785.03,283.53 L785.69,283.86 L786.36,284.18 L787.03,284.49 L787.69,284.81 L788.36,285.12 L789.03,285.42 L789.69,285.73 L790.36,286.03 L791.03,286.33 L791.69,286.63 L792.36,286.92 L793.02,287.22 L793.69,287.51 L794.36,287.79 L795.02,288.08 L795.69,288.36 L796.36,288.64 L797.02,288.91 L797.69,289.19 L798.36,289.46 L799.02,289.73 L799.69,289.99 L800.36,290.26 L801.02,290.52 L801.69,290.78 L802.36,291.04 L803.02,291.29 L803.69,291.55 L804.36,291.8 L805.02,292.04 L805.69,292.29 L806.36,292.53 L807.02,292.78 L807.69,293.02 L808.35,293.25 L809.02,293.49 L809.69,293.72 L810.35,293.95 L811.02,294.18 L811.69,294.41 L812.35,294.63 L813.02,294.86 L813.69,295.08 L814.35,295.29 L815.02,295.51 L815.69,295.73 L816.35,295.94 L817.02,296.15 L817.69,296.36 L818.35,296.57 L819.02,296.77 L819.68,296.98 L820.35,297.18 L821.02,297.38 L821.68,297.58 L822.35,297.77 L823.02,297.97 L823.68,298.16 L824.35,298.35 L825.02,298.54 L825.68,298.73 L826.35,298.91 L827.02,299.1 L827.68,299.28 L828.35,299.46 L829.02,299.64 L829.68,299.82 L830.35,300 L831.02,300.17 L831.68,300.34 L832.35,300.52 L833.01,300.69 L833.68,300.86 L834.35,301.02 L835.01,301.19 L835.68,301.35 L836.35,301.51 L837.01,301.68 L837.68,301.84 L838.35,301.99 L839.01,302.15 L839.68,302.31 L840.35,302.46 L841.01,302.61 L841.68,302.76 L842.35,302.91 L843.01,303.06 L843.68,303.21 L844.35,303.36 L845.01,303.5 L845.68,303.64 L846.35,303.79 L847.01,303.93 L847.68,304.07 L848.34,304.2 L849.01,304.34 L849.68,304.48 L850.34,304.61 L851.01,304.75 L851.68,304.88 L852.34,305.01 L853.01,305.14 L853.68,305.27 L854.34,305.39 L855.01,305.52 L855.68,305.65 L856.34,305.77 L857.01,305.89 L857.68,306.02 L858.34,306.14 L859.01,306.26 L859.67,306.37 L860.34,306.49 L861.01,306.61 L861.67,306.72 L862.34,306.84 L863.01,306.95 L863.67,307.06 L864.34,307.18 L865.01,307.29 L865.67,307.4 L866.34,307.5 L867.01,307.61 L867.67,307.72 L868.34,307.82 L869.01,307.93 L869.67,308.03 L870.34,308.13 L871.01,308.24 L871.67,308.34 L872.34,308.44 L873,308.54 L873.67,308.63 L874.34,308.73 L875,308.83 L875.67,308.92 L876.34,309.02 L877,309.11 L877.67,309.21 L878.34,309.3 L879,309.39 L879.67,309.48 L880.34,309.57 L881,309.66 L881.67,309.75 L882.34,309.83 L883,309.92 L883.67,310.01 L884.34,310.09 L885,310.18 L885.67,310.26 L886.34,310.34 L887,310.42 L887.67,310.51 L888.33,310.59 L889,310.67 L889.67,310.75 L890.33,310.82 L891,310.9 L891.67,310.98 L892.33,311.06 L893,311.13" fill="none" stroke="#000" stroke-width="2.95" stroke-dasharray="19.2 9.5" clip-path="url(#c2)"/>
<path d="M626.4,319.5 L627.07,315.17 L627.73,310.84 L628.4,306.52 L629.07,302.2 L629.73,297.88 L630.4,293.58 L631.07,289.28 L631.73,285 L632.4,280.73 L633.06,276.47 L633.73,272.23 L634.4,268.01 L635.06,263.81 L635.73,259.63 L636.4,255.47 L637.06,251.34 L637.73,247.23 L638.4,243.15 L639.06,239.09 L639.73,235.07 L640.4,231.08 L641.06,227.12 L641.73,223.2 L642.4,219.31 L643.06,215.46 L643.73,211.65 L644.4,207.88 L645.06,204.15 L645.73,200.47 L646.39,196.82 L647.06,193.22 L647.73,189.67 L648.39,186.17 L649.06,182.71 L649.73,179.31 L650.39,175.95 L651.06,172.65 L651.73,169.39 L652.39,166.2 L653.06,163.05 L653.73,159.97 L654.39,156.94 L655.06,153.96 L655.73,151.05 L656.39,148.19 L657.06,145.4 L657.73,142.66 L658.39,139.99 L659.06,137.38 L659.73,134.83 L660.39,132.34 L661.06,129.91 L661.72,127.56 L662.39,125.26 L663.06,123.03 L663.72,120.87 L664.39,118.77 L665.06,116.73 L665.72,114.77 L666.39,112.87 L667.06,111.04 L667.72,109.27 L668.39,107.57 L669.06,105.94 L669.72,104.37 L670.39,102.88 L671.06,101.45 L671.72,100.09 L672.39,98.79 L673.05,97.56 L673.72,96.4 L674.39,95.31 L675.05,94.28 L675.72,93.32 L676.39,92.43 L677.05,91.6 L677.72,90.84 L678.39,90.14 L679.05,89.51 L679.72,88.94 L680.39,88.44 L681.05,88 L681.72,87.63 L682.39,87.31 L683.05,87.06 L683.72,86.87 L684.39,86.74 L685.05,86.67 L685.72,86.66 L686.38,86.71 L687.05,86.82 L687.72,86.99 L688.38,87.21 L689.05,87.49 L689.72,87.82 L690.38,88.21 L691.05,88.65 L691.72,89.15 L692.38,89.7 L693.05,90.3 L693.72,90.94 L694.38,91.64 L695.05,92.39 L695.72,93.19 L696.38,94.03 L697.05,94.92 L697.72,95.85 L698.38,96.82 L699.05,97.84 L699.72,98.9 L700.38,100.01 L701.05,101.15 L701.71,102.33 L702.38,103.55 L703.05,104.81 L703.71,106.1 L704.38,107.43 L705.05,108.79 L705.71,110.18 L706.38,111.61 L707.05,113.06 L707.71,114.55 L708.38,116.07 L709.05,117.61 L709.71,119.18 L710.38,120.78 L711.05,122.4 L711.71,124.04 L712.38,125.71 L713.04,127.4 L713.71,129.11 L714.38,130.84 L715.04,132.59 L715.71,134.35 L716.38,136.14 L717.04,137.94 L717.71,139.75 L718.38,141.58 L719.04,143.42 L719.71,145.27 L720.38,147.14 L721.04,149.01 L721.71,150.9 L722.38,152.79 L723.04,154.69 L723.71,156.6 L724.38,158.51 L725.04,160.43 L725.71,162.35 L726.38,164.28 L727.04,166.21 L727.71,168.14 L728.37,170.07 L729.04,172 L729.71,173.93 L730.37,175.86 L731.04,177.79 L731.71,179.72 L732.37,181.64 L733.04,183.56 L733.71,185.48 L734.37,187.39 L735.04,189.29 L735.71,191.19 L736.37,193.08 L737.04,194.97 L737.71,196.84 L738.37,198.71 L739.04,200.57 L739.7,202.42 L740.37,204.26 L741.04,206.08 L741.7,207.9 L742.37,209.71 L743.04,211.5 L743.7,213.28 L744.37,215.05 L745.04,216.81 L745.7,218.55 L746.37,220.28 L747.04,221.99 L747.7,223.69 L748.37,225.37 L749.04,227.04 L749.7,228.7 L750.37,230.34 L751.04,231.96 L751.7,233.57 L752.37,235.16 L753.03,236.73 L753.7,238.29 L754.37,239.83 L755.03,241.35 L755.7,242.86 L756.37,244.34 L757.03,245.81 L757.7,247.27 L758.37,248.7 L759.03,250.12 L759.7,251.52 L760.37,252.9 L761.03,254.26 L761.7,255.61 L762.37,256.93 L763.03,258.24 L763.7,259.53 L764.37,260.8 L765.03,262.06 L765.7,263.29 L766.37,264.51 L767.03,265.71 L767.7,266.89 L768.36,268.05 L769.03,269.19 L769.7,270.32 L770.36,271.42 L771.03,272.51 L771.7,273.59 L772.36,274.64 L773.03,275.68 L773.7,276.7 L774.36,277.7 L775.03,278.68 L775.7,279.65 L776.36,280.6 L777.03,281.53 L777.7,282.44 L778.36,283.34 L779.03,284.22 L779.69,285.09 L780.36,285.94 L781.03,286.77 L781.69,287.59 L782.36,288.39 L783.03,289.18 L783.69,289.95 L784.36,290.7 L785.03,291.44 L785.69,292.16 L786.36,292.87 L787.03,293.57 L787.69,294.25 L788.36,294.91 L789.03,295.57 L789.69,296.2 L790.36,296.83 L791.03,297.44 L791.69,298.04 L792.36,298.62 L793.02,299.19 L793.69,299.75 L794.36,300.3 L795.02,300.83 L795.69,301.35 L796.36,301.86 L797.02,302.36 L797.69,302.84 L798.36,303.32 L799.02,303.78 L799.69,304.23 L800.36,304.67 L801.02,305.1 L801.69,305.52 L802.36,305.93 L803.02,306.33 L803.69,306.72 L804.36,307.1 L805.02,307.47 L805.69,307.83 L806.36,308.18 L807.02,308.52 L807.69,308.86 L808.35,309.18 L809.02,309.5 L809.69,309.81 L810.35,310.11 L811.02,310.4 L811.69,310.68 L812.35,310.96 L813.02,311.23 L813.69,311.49 L814.35,311.74 L815.02,311.99 L815.69,312.23 L816.35,312.47 L817.02,312.69 L817.69,312.91 L818.35,313.13 L819.02,313.34 L819.68,313.54 L820.35,313.74 L821.02,313.93 L821.68,314.11 L822.35,314.29 L823.02,314.47 L823.68,314.63 L824.35,314.8 L825.02,314.96 L825.68,315.11 L826.35,315.26 L827.02,315.41 L827.68,315.55 L828.35,315.69 L829.02,315.82 L829.68,315.95 L830.35,316.07 L831.02,316.19 L831.68,316.31 L832.35,316.42 L833.01,316.53 L833.68,316.64 L834.35,316.74 L835.01,316.84 L835.68,316.93 L836.35,317.03 L837.01,317.12 L837.68,317.2 L838.35,317.29 L839.01,317.37 L839.68,317.45 L840.35,317.52 L841.01,317.6 L841.68,317.67 L842.35,317.74 L843.01,317.8 L843.68,317.87 L844.35,317.93 L845.01,317.99 L845.68,318.04 L846.35,318.1 L847.01,318.15 L847.68,318.2 L848.34,318.25 L849.01,318.3 L849.68,318.35 L850.34,318.39 L851.01,318.44 L851.68,318.48 L852.34,318.52 L853.01,318.56 L853.68,318.6 L854.34,318.63 L855.01,318.67 L855.68,318.7 L856.34,318.73 L857.01,318.76 L857.68,318.79 L858.34,318.82 L859.01,318.85 L859.67,318.87 L860.34,318.9 L861.01,318.92 L861.67,318.95 L862.34,318.97 L863.01,318.99 L863.67,319.01 L864.34,319.03 L865.01,319.05 L865.67,319.07 L866.34,319.09 L867.01,319.11 L867.67,319.12 L868.34,319.14 L869.01,319.16 L869.67,319.17 L870.34,319.18 L871.01,319.2 L871.67,319.21 L872.34,319.22 L873,319.24 L873.67,319.25 L874.34,319.26 L875,319.27 L875.67,319.28 L876.34,319.29 L877,319.3 L877.67,319.31 L878.34,319.32 L879,319.32 L879.67,319.33 L880.34,319.34 L881,319.35 L881.67,319.35 L882.34,319.36 L883,319.37 L883.67,319.37 L884.34,319.38 L885,319.38 L885.67,319.39 L886.34,319.39 L887,319.4 L887.67,319.4 L888.33,319.41 L889,319.41 L889.67,319.42 L890.33,319.42 L891,319.42 L891.67,319.43 L892.33,319.43 L893,319.43" fill="none" stroke="#000" stroke-width="2.6" clip-path="url(#c2)"/>
<path d="M626.4,261.6 L639.37,261.6 L639.37,111.9 L652.34,111.9 L652.34,84.1 L665.31,84.1 L665.31,111.7 L678.28,111.7 L678.28,105.8 L691.25,105.8 L691.25,137.2 L704.22,137.2 L704.22,190.9 L717.19,190.9 L717.19,215.4 L730.16,215.4 L730.16,201.3 L743.13,201.3 L743.13,269.1 L756.1,269.1 L756.1,251.4 L769.07,251.4 L769.07,290.7 L782.04,290.7 L782.04,276.4 L795.01,276.4 L795.01,287.2 L807.98,287.2 L807.98,301.5 L820.95,301.5 L820.95,297.9 L833.92,297.9 L833.92,305.2 L846.89,305.2 L846.89,311.9 L859.86,311.9 L859.86,311.9 L872.83,311.9 L872.83,311.9 L885.8,311.9" fill="none" stroke="#f00" stroke-width="2.4" stroke-linejoin="miter" stroke-linecap="butt"/>
<path d="M632.5,209.5 L645.6,169 L658.5,140 L671.3,125.4 L684.5,123.5 L697.4,132.9 L710.7,151.7 L723.4,175.5 L736.5,200.4 L749.3,226.2 L762.8,249.6 L775.5,269 L788.1,284.9 L801.3,296.2 L814.2,304.3 L827.3,309.9 L840.2,313.8 L853,316 L866.3,316.8 L879.5,317.9" fill="none" stroke="#40e0d0" stroke-width="2.4" stroke-dasharray="10.85 7.6" stroke-dashoffset="-0.45"/>
<circle cx="632.5" cy="209.5" r="3.15" fill="none" stroke="#40e0d0" stroke-width="2.6"/>
<circle cx="645.6" cy="169" r="3.15" fill="none" stroke="#40e0d0" stroke-width="2.6"/>
<circle cx="658.5" cy="140" r="3.15" fill="none" stroke="#40e0d0" stroke-width="2.6"/>
<circle cx="671.3" cy="125.4" r="3.15" fill="none" stroke="#40e0d0" stroke-width="2.6"/>
<circle cx="684.5" cy="123.5" r="3.15" fill="none" stroke="#40e0d0" stroke-width="2.6"/>
<circle cx="697.4" cy="132.9" r="3.15" fill="none" stroke="#40e0d0" stroke-width="2.6"/>
<circle cx="710.7" cy="151.7" r="3.15" fill="none" stroke="#40e0d0" stroke-width="2.6"/>
<circle cx="723.4" cy="175.5" r="3.15" fill="none" stroke="#40e0d0" stroke-width="2.6"/>
<circle cx="736.5" cy="200.4" r="3.15" fill="none" stroke="#40e0d0" stroke-width="2.6"/>
<circle cx="749.3" cy="226.2" r="3.15" fill="none" stroke="#40e0d0" stroke-width="2.6"/>
<circle cx="762.8" cy="249.6" r="3.15" fill="none" stroke="#40e0d0" stroke-width="2.6"/>
<circle cx="775.5" cy="269" r="3.15" fill="none" stroke="#40e0d0" stroke-width="2.6"/>
<circle cx="788.1" cy="284.9" r="3.15" fill="none" stroke="#40e0d0" stroke-width="2.6"/>
<circle cx="801.3" cy="296.2" r="3.15" fill="none" stroke="#40e0d0" stroke-width="2.6"/>
<circle cx="814.2" cy="304.3" r="3.15" fill="none" stroke="#40e0d0" stroke-width="2.6"/>
<circle cx="827.3" cy="309.9" r="3.15" fill="none" stroke="#40e0d0" stroke-width="2.6"/>
<circle cx="840.2" cy="313.8" r="3.15" fill="none" stroke="#40e0d0" stroke-width="2.6"/>
<circle cx="853" cy="316" r="3.15" fill="none" stroke="#40e0d0" stroke-width="2.6"/>
<circle cx="866.3" cy="316.8" r="3.15" fill="none" stroke="#40e0d0" stroke-width="2.6"/>
<circle cx="879.5" cy="317.9" r="3.15" fill="none" stroke="#40e0d0" stroke-width="2.6"/>
<line x1="122.18" y1="319.5" x2="122.18" y2="311.8" stroke="#000" stroke-width="2.0"/>
<line x1="122.18" y1="13.2" x2="122.18" y2="20.9" stroke="#000" stroke-width="2.0"/>
<line x1="151.86" y1="319.5" x2="151.86" y2="303.9" stroke="#000" stroke-width="2.0"/>
<line x1="151.86" y1="13.2" x2="151.86" y2="28.8" stroke="#000" stroke-width="2.0"/>
<line x1="181.53" y1="319.5" x2="181.53" y2="311.8" stroke="#000" stroke-width="2.0"/>
<line x1="181.53" y1="13.2" x2="181.53" y2="20.9" stroke="#000" stroke-width="2.0"/>
<line x1="211.21" y1="319.5" x2="211.21" y2="303.9" stroke="#000" stroke-width="2.0"/>
<line x1="211.21" y1="13.2" x2="211.21" y2="28.8" stroke="#000" stroke-width="2.0"/>
<line x1="240.89" y1="319.5" x2="240.89" y2="311.8" stroke="#000" stroke-width="2.0"/>
<line x1="240.89" y1="13.2" x2="240.89" y2="20.9" stroke="#000" stroke-width="2.0"/>
<line x1="270.57" y1="319.5" x2="270.57" y2="303.9" stroke="#000" stroke-width="2.0"/>
<line x1="270.57" y1="13.2" x2="270.57" y2="28.8" stroke="#000" stroke-width="2.0"/>
<line x1="300.24" y1="319.5" x2="300.24" y2="311.8" stroke="#000" stroke-width="2.0"/>
<line x1="300.24" y1="13.2" x2="300.24" y2="20.9" stroke="#000" stroke-width="2.0"/>
<line x1="329.92" y1="319.5" x2="329.92" y2="303.9" stroke="#000" stroke-width="2.0"/>
<line x1="329.92" y1="13.2" x2="329.92" y2="28.8" stroke="#000" stroke-width="2.0"/>
<line x1="92.5" y1="288.87" x2="100.2" y2="288.87" stroke="#000" stroke-width="2.0"/>
<line x1="359.6" y1="288.87" x2="351.9" y2="288.87" stroke="#000" stroke-width="2.0"/>
<line x1="92.5" y1="258.24" x2="108.1" y2="258.24" stroke="#000" stroke-width="2.0"/>
<line x1="359.6" y1="258.24" x2="344" y2="258.24" stroke="#000" stroke-width="2.0"/>
<line x1="92.5" y1="227.61" x2="100.2" y2="227.61" stroke="#000" stroke-width="2.0"/>
<line x1="359.6" y1="227.61" x2="351.9" y2="227.61" stroke="#000" stroke-width="2.0"/>
<line x1="92.5" y1="196.98" x2="108.1" y2="196.98" stroke="#000" stroke-width="2.0"/>
<line x1="359.6" y1="196.98" x2="344" y2="196.98" stroke="#000" stroke-width="2.0"/>
<line x1="92.5" y1="166.35" x2="100.2" y2="166.35" stroke="#000" stroke-width="2.0"/>
<line x1="359.6" y1="166.35" x2="351.9" y2="166.35" stroke="#000" stroke-width="2.0"/>
<line x1="92.5" y1="135.72" x2="108.1" y2="135.72" stroke="#000" stroke-width="2.0"/>
<line x1="359.6" y1="135.72" x2="344" y2="135.72" stroke="#000" stroke-width="2.0"/>
<line x1="92.5" y1="105.09" x2="100.2" y2="105.09" stroke="#000" stroke-width="2.0"/>
<line x1="359.6" y1="105.09" x2="351.9" y2="105.09" stroke="#000" stroke-width="2.0"/>
<line x1="92.5" y1="74.46" x2="108.1" y2="74.46" stroke="#000" stroke-width="2.0"/>
<line x1="359.6" y1="74.46" x2="344" y2="74.46" stroke="#000" stroke-width="2.0"/>
<line x1="92.5" y1="43.83" x2="100.2" y2="43.83" stroke="#000" stroke-width="2.0"/>
<line x1="359.6" y1="43.83" x2="351.9" y2="43.83" stroke="#000" stroke-width="2.0"/>
<rect x="92.5" y="13.2" width="267.1" height="306.3" fill="none" stroke="#000" stroke-width="2.2" stroke-linejoin="round"/>
<line x1="389.24" y1="319.5" x2="389.24" y2="311.8" stroke="#000" stroke-width="2.0"/>
<line x1="389.24" y1="13.2" x2="389.24" y2="20.9" stroke="#000" stroke-width="2.0"/>
<line x1="418.89" y1="319.5" x2="418.89" y2="303.9" stroke="#000" stroke-width="2.0"/>
<line x1="418.89" y1="13.2" x2="418.89" y2="28.8" stroke="#000" stroke-width="2.0"/>
<line x1="448.53" y1="319.5" x2="448.53" y2="311.8" stroke="#000" stroke-width="2.0"/>
<line x1="448.53" y1="13.2" x2="448.53" y2="20.9" stroke="#000" stroke-width="2.0"/>
<line x1="478.18" y1="319.5" x2="478.18" y2="303.9" stroke="#000" stroke-width="2.0"/>
<line x1="478.18" y1="13.2" x2="478.18" y2="28.8" stroke="#000" stroke-width="2.0"/>
<line x1="507.82" y1="319.5" x2="507.82" y2="311.8" stroke="#000" stroke-width="2.0"/>
<line x1="507.82" y1="13.2" x2="507.82" y2="20.9" stroke="#000" stroke-width="2.0"/>
<line x1="537.47" y1="319.5" x2="537.47" y2="303.9" stroke="#000" stroke-width="2.0"/>
<line x1="537.47" y1="13.2" x2="537.47" y2="28.8" stroke="#000" stroke-width="2.0"/>
<line x1="567.11" y1="319.5" x2="567.11" y2="311.8" stroke="#000" stroke-width="2.0"/>
<line x1="567.11" y1="13.2" x2="567.11" y2="20.9" stroke="#000" stroke-width="2.0"/>
<line x1="596.76" y1="319.5" x2="596.76" y2="303.9" stroke="#000" stroke-width="2.0"/>
<line x1="596.76" y1="13.2" x2="596.76" y2="28.8" stroke="#000" stroke-width="2.0"/>
<line x1="359.6" y1="288.87" x2="367.3" y2="288.87" stroke="#000" stroke-width="2.0"/>
<line x1="626.4" y1="288.87" x2="618.7" y2="288.87" stroke="#000" stroke-width="2.0"/>
<line x1="359.6" y1="258.24" x2="375.2" y2="258.24" stroke="#000" stroke-width="2.0"/>
<line x1="626.4" y1="258.24" x2="610.8" y2="258.24" stroke="#000" stroke-width="2.0"/>
<line x1="359.6" y1="227.61" x2="367.3" y2="227.61" stroke="#000" stroke-width="2.0"/>
<line x1="626.4" y1="227.61" x2="618.7" y2="227.61" stroke="#000" stroke-width="2.0"/>
<line x1="359.6" y1="196.98" x2="375.2" y2="196.98" stroke="#000" stroke-width="2.0"/>
<line x1="626.4" y1="196.98" x2="610.8" y2="196.98" stroke="#000" stroke-width="2.0"/>
<line x1="359.6" y1="166.35" x2="367.3" y2="166.35" stroke="#000" stroke-width="2.0"/>
<line x1="626.4" y1="166.35" x2="618.7" y2="166.35" stroke="#000" stroke-width="2.0"/>
<line x1="359.6" y1="135.72" x2="375.2" y2="135.72" stroke="#000" stroke-width="2.0"/>
<line x1="626.4" y1="135.72" x2="610.8" y2="135.72" stroke="#000" stroke-width="2.0"/>
<line x1="359.6" y1="105.09" x2="367.3" y2="105.09" stroke="#000" stroke-width="2.0"/>
<line x1="626.4" y1="105.09" x2="618.7" y2="105.09" stroke="#000" stroke-width="2.0"/>
<line x1="359.6" y1="74.46" x2="375.2" y2="74.46" stroke="#000" stroke-width="2.0"/>
<line x1="626.4" y1="74.46" x2="610.8" y2="74.46" stroke="#000" stroke-width="2.0"/>
<line x1="359.6" y1="43.83" x2="367.3" y2="43.83" stroke="#000" stroke-width="2.0"/>
<line x1="626.4" y1="43.83" x2="618.7" y2="43.83" stroke="#000" stroke-width="2.0"/>
<rect x="359.6" y="13.2" width="266.8" height="306.3" fill="none" stroke="#000" stroke-width="2.2" stroke-linejoin="round"/>
<line x1="656.02" y1="319.5" x2="656.02" y2="311.8" stroke="#000" stroke-width="2.0"/>
<line x1="656.02" y1="13.2" x2="656.02" y2="20.9" stroke="#000" stroke-width="2.0"/>
<line x1="685.64" y1="319.5" x2="685.64" y2="303.9" stroke="#000" stroke-width="2.0"/>
<line x1="685.64" y1="13.2" x2="685.64" y2="28.8" stroke="#000" stroke-width="2.0"/>
<line x1="715.27" y1="319.5" x2="715.27" y2="311.8" stroke="#000" stroke-width="2.0"/>
<line x1="715.27" y1="13.2" x2="715.27" y2="20.9" stroke="#000" stroke-width="2.0"/>
<line x1="744.89" y1="319.5" x2="744.89" y2="303.9" stroke="#000" stroke-width="2.0"/>
<line x1="744.89" y1="13.2" x2="744.89" y2="28.8" stroke="#000" stroke-width="2.0"/>
<line x1="774.51" y1="319.5" x2="774.51" y2="311.8" stroke="#000" stroke-width="2.0"/>
<line x1="774.51" y1="13.2" x2="774.51" y2="20.9" stroke="#000" stroke-width="2.0"/>
<line x1="804.13" y1="319.5" x2="804.13" y2="303.9" stroke="#000" stroke-width="2.0"/>
<line x1="804.13" y1="13.2" x2="804.13" y2="28.8" stroke="#000" stroke-width="2.0"/>
<line x1="833.76" y1="319.5" x2="833.76" y2="311.8" stroke="#000" stroke-width="2.0"/>
<line x1="833.76" y1="13.2" x2="833.76" y2="20.9" stroke="#000" stroke-width="2.0"/>
<line x1="863.38" y1="319.5" x2="863.38" y2="303.9" stroke="#000" stroke-width="2.0"/>
<line x1="863.38" y1="13.2" x2="863.38" y2="28.8" stroke="#000" stroke-width="2.0"/>
<line x1="626.4" y1="288.87" x2="634.1" y2="288.87" stroke="#000" stroke-width="2.0"/>
<line x1="893" y1="288.87" x2="885.3" y2="288.87" stroke="#000" stroke-width="2.0"/>
<line x1="626.4" y1="258.24" x2="642" y2="258.24" stroke="#000" stroke-width="2.0"/>
<line x1="893" y1="258.24" x2="877.4" y2="258.24" stroke="#000" stroke-width="2.0"/>
<line x1="626.4" y1="227.61" x2="634.1" y2="227.61" stroke="#000" stroke-width="2.0"/>
<line x1="893" y1="227.61" x2="885.3" y2="227.61" stroke="#000" stroke-width="2.0"/>
<line x1="626.4" y1="196.98" x2="642" y2="196.98" stroke="#000" stroke-width="2.0"/>
<line x1="893" y1="196.98" x2="877.4" y2="196.98" stroke="#000" stroke-width="2.0"/>
<line x1="626.4" y1="166.35" x2="634.1" y2="166.35" stroke="#000" stroke-width="2.0"/>
<line x1="893" y1="166.35" x2="885.3" y2="166.35" stroke="#000" stroke-width="2.0"/>
<line x1="626.4" y1="135.72" x2="642" y2="135.72" stroke="#000" stroke-width="2.0"/>
<line x1="893" y1="135.72" x2="877.4" y2="135.72" stroke="#000" stroke-width="2.0"/>
<line x1="626.4" y1="105.09" x2="634.1" y2="105.09" stroke="#000" stroke-width="2.0"/>
<line x1="893" y1="105.09" x2="885.3" y2="105.09" stroke="#000" stroke-width="2.0"/>
<line x1="626.4" y1="74.46" x2="642" y2="74.46" stroke="#000" stroke-width="2.0"/>
<line x1="893" y1="74.46" x2="877.4" y2="74.46" stroke="#000" stroke-width="2.0"/>
<line x1="626.4" y1="43.83" x2="634.1" y2="43.83" stroke="#000" stroke-width="2.0"/>
<line x1="893" y1="43.83" x2="885.3" y2="43.83" stroke="#000" stroke-width="2.0"/>
<rect x="626.4" y="13.2" width="266.6" height="306.3" fill="none" stroke="#000" stroke-width="2.2" stroke-linejoin="round"/>
<text transform="translate(86,330.9) scale(0.985,1.045)" font-size="34" text-anchor="end">0</text>
<text transform="translate(86,269.64) scale(0.985,1.045)" font-size="34" text-anchor="end">0.2</text>
<text transform="translate(86,208.38) scale(0.985,1.045)" font-size="34" text-anchor="end">0.4</text>
<text transform="translate(86,147.12) scale(0.985,1.045)" font-size="34" text-anchor="end">0.6</text>
<text transform="translate(86,85.86) scale(0.985,1.045)" font-size="34" text-anchor="end">0.8</text>
<text transform="translate(86,24.6) scale(0.985,1.045)" font-size="34" text-anchor="end">1.0</text>
<text transform="translate(92.9,350) scale(0.985,1.045)" font-size="34" text-anchor="middle">0</text>
<text transform="translate(152.26,350) scale(0.985,1.045)" font-size="34" text-anchor="middle">0.8</text>
<text transform="translate(211.61,350) scale(0.985,1.045)" font-size="34" text-anchor="middle">1.6</text>
<text transform="translate(270.97,350) scale(0.985,1.045)" font-size="34" text-anchor="middle">2.4</text>
<text transform="translate(330.32,350) scale(0.985,1.045)" font-size="34" text-anchor="middle">3.2</text>
<text x="227.05" y="376.4" font-size="39" font-style="italic" text-anchor="middle">s</text>
<text transform="translate(360,350) scale(0.985,1.045)" font-size="34" text-anchor="middle">0</text>
<text transform="translate(419.29,350) scale(0.985,1.045)" font-size="34" text-anchor="middle">0.8</text>
<text transform="translate(478.58,350) scale(0.985,1.045)" font-size="34" text-anchor="middle">1.6</text>
<text transform="translate(537.87,350) scale(0.985,1.045)" font-size="34" text-anchor="middle">2.4</text>
<text transform="translate(597.16,350) scale(0.985,1.045)" font-size="34" text-anchor="middle">3.2</text>
<text x="494" y="376.4" font-size="39" font-style="italic" text-anchor="middle">s</text>
<text transform="translate(626.8,350) scale(0.985,1.045)" font-size="34" text-anchor="middle">0</text>
<text transform="translate(686.04,350) scale(0.985,1.045)" font-size="34" text-anchor="middle">0.8</text>
<text transform="translate(745.29,350) scale(0.985,1.045)" font-size="34" text-anchor="middle">1.6</text>
<text transform="translate(804.53,350) scale(0.985,1.045)" font-size="34" text-anchor="middle">2.4</text>
<text transform="translate(863.78,350) scale(0.985,1.045)" font-size="34" text-anchor="middle">3.2</text>
<text x="760.7" y="376.4" font-size="39" font-style="italic" text-anchor="middle">s</text>
<text transform="translate(115,58.6) scale(1.045,0.99)" font-size="31.7">(a)</text>
<text transform="translate(383.3,58.6) scale(1.045,0.99)" font-size="31.7">(b)</text>
<text transform="translate(651.3,58.6) scale(1.045,0.99)" font-size="31.7">(c)</text>
<text transform="translate(30.3,166.4) rotate(-90)" font-size="40" text-anchor="middle"><tspan font-style="italic">P</tspan>(<tspan font-style="italic">s</tspan>)</text>
</svg></body></html>
